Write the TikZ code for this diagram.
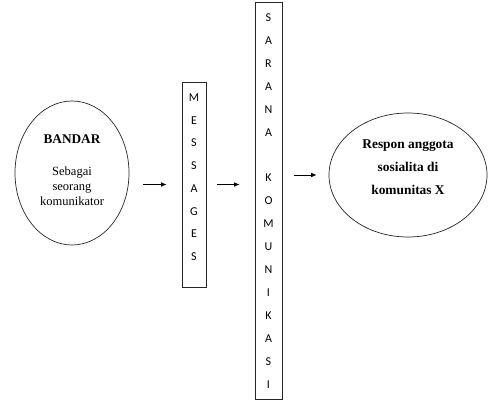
\documentclass[tikz,border=0pt]{standalone}
\usepackage{fontspec}
\setmainfont{Liberation Serif}
\newfontfamily\boxfont{Carlito}
\usetikzlibrary{shapes.geometric,arrows.meta}
\begin{document}
\begin{tikzpicture}[x=1pt,y=1pt,
  outline/.style={draw=black!85, line width=0.7pt},
  oval/.style={outline, ellipse, inner sep=0pt},
  column/.style={outline, rectangle, inner sep=0pt},
  letters/.style={anchor=north, inner sep=0pt, align=center},
  flow/.style={-{Latex[length=5.5pt,width=4.5pt]}, line width=0.7pt}]
\useasboundingbox (0,0) rectangle (489,402);

% sender
\node[oval, minimum width=114pt, minimum height=144pt] (bandar) at (72,229) {};
\node[align=center, inner sep=0pt, font=\fontsize{12.5}{15}\selectfont] (bandartext) at (72,232)
  {{\fontsize{13.3}{15}\selectfont\bfseries BANDAR}\\[17pt]
   Sebagai\\seorang\\komunikator};

% message column
\node[column, minimum width=24pt, minimum height=205pt] (msgs) at (194,217.5) {};
\node[letters, font=\boxfont\fontsize{12}{22.7}\selectfont, yshift=-12pt] (msgstext) at (msgs.north)
  {M\\E\\S\\S\\A\\G\\E\\S};

% channel column
\node[column, minimum width=27pt, minimum height=397pt] (sarana) at (268.5,201.5) {};
\node[letters, font=\boxfont\fontsize{12}{22.9}\selectfont, yshift=-12pt] (saranatext) at (sarana.north)
  {S\\A\\R\\A\\N\\A\\[22.9pt]K\\O\\M\\U\\N\\I\\K\\A\\S\\I};

% receiver
\node[oval, minimum width=158pt, minimum height=124pt] (resp) at (408,227) {};
\node[align=center, inner sep=0pt, font=\fontsize{13.4}{23}\selectfont\bfseries] (resptext) at (408,235)
  {Respon anggota\\sosialita di\\komunitas X};

% flow arrows
\draw[flow, shorten <=14pt, shorten >=15pt] (bandar.east |- msgs.west) -- (msgs.west);
\draw[flow, shorten <=11pt, shorten >=15pt] (msgs.east) -- (sarana.west |- msgs.east);
\draw[flow, shorten <=12pt, shorten >=12pt] (sarana.east |- resp.west) -- (resp.west);
\end{tikzpicture}
\end{document}
